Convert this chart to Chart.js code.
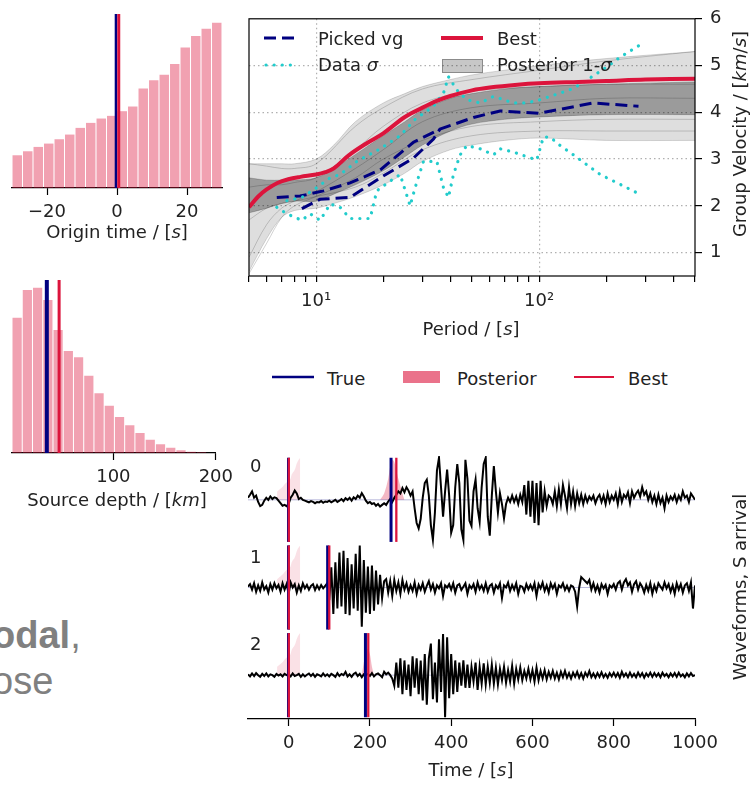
<!DOCTYPE html>
<html>
<head>
<meta charset="utf-8">
<script src="https://cdn.jsdelivr.net/npm/chart.js@4.4.1/dist/chart.umd.min.js"></script>
<style>
  body { margin: 0; background: #fff; }
  #page { position: relative; width: 751px; height: 789px; overflow: hidden; font-family: 'DejaVu Sans', sans-serif; color: #222; }
  canvas { position: absolute; }
  .lbl { position: absolute; font-size: 18px; line-height: 18px; white-space: nowrap; }
  .ctr { text-align: center; width: 300px; }
  .rot { transform: rotate(-90deg); }
  .slide { position: absolute; font-family: 'Liberation Sans', Arial, sans-serif; font-size: 38px; line-height: 46px; color: #808080; white-space: nowrap; }
  svg { position: absolute; overflow: visible; }
</style>
</head>
<body>
<div id="page">
  <canvas id="cOrigin" width="240" height="250" style="left:0;top:0"></canvas>
  <canvas id="cDepth" width="240" height="260" style="left:0;top:260px"></canvas>
  <canvas id="cDisp" width="511" height="345" style="left:240px;top:0"></canvas>
  <canvas id="cWave" width="511" height="349" style="left:240px;top:440px"></canvas>

  <!-- axis titles -->
  <div class="lbl ctr" style="left:-33px;top:223px">Origin time / [<i>s</i>]</div>
  <div class="lbl ctr" style="left:-33px;top:491px">Source depth / [<i>km</i>]</div>
  <div class="lbl ctr" style="left:321px;top:320px">Period / [<i>s</i>]</div>
  <div class="lbl ctr rot" style="left:590px;top:125px">Group Velocity / [<i>km</i>/<i>s</i>]</div>
  <div class="lbl ctr" style="left:321px;top:761px">Time / [<i>s</i>]</div>
  <div class="lbl ctr rot" style="left:590px;top:578px">Waveforms, S arrival</div>

  <!-- waveform row labels -->
  <div class="lbl" style="left:250px;top:457px">0</div>
  <div class="lbl" style="left:250px;top:548px">1</div>
  <div class="lbl" style="left:250px;top:635px">2</div>

  <!-- legend inside dispersion panel -->
  <svg style="left:264px;top:33px" width="36" height="10"><line x1="0" y1="5" x2="36" y2="5" stroke="#000080" stroke-width="3" stroke-dasharray="12,6"/></svg>
  <div class="lbl" style="left:318px;top:30px">Picked vg</div>
  <svg style="left:264px;top:60px" width="36" height="10"><line x1="2" y1="5" x2="34" y2="5" stroke="#22CCCC" stroke-width="3.2" stroke-linecap="round" stroke-dasharray="0.1,8"/></svg>
  <div class="lbl" style="left:318px;top:56px">Data <i>σ</i></div>
  <svg style="left:441px;top:33px" width="42" height="10"><line x1="0" y1="5" x2="42" y2="5" stroke="#DC143C" stroke-width="4"/></svg>
  <div class="lbl" style="left:497px;top:30px">Best</div>
  <div style="position:absolute;left:442px;top:59px;width:39px;height:12px;background:rgba(0,0,0,0.22);border:1px solid rgba(0,0,0,0.3)"></div>
  <div class="lbl" style="left:497px;top:56px">Posterior 1-<i>σ</i></div>

  <!-- shared legend -->
  <svg style="left:272px;top:372px" width="42" height="10"><line x1="0" y1="5" x2="42" y2="5" stroke="#000080" stroke-width="2.5"/></svg>
  <div class="lbl" style="left:327px;top:370px">True</div>
  <div style="position:absolute;left:403px;top:371px;width:37px;height:12px;background:rgba(220,20,60,0.6)"></div>
  <div class="lbl" style="left:457px;top:370px">Posterior</div>
  <svg style="left:574px;top:372px" width="40" height="10"><line x1="0" y1="5" x2="40" y2="5" stroke="#DC143C" stroke-width="2"/></svg>
  <div class="lbl" style="left:628px;top:370px">Best</div>

  <!-- slide text behind the figure -->
  <div class="slide" style="left:-8px;top:612px"><b>odal</b>,<br>ose</div>
</div>

<script>
// ---------- data ----------
// origin time histogram
const originCenters = [-28.5, -25.5, -22.5, -19.5, -16.5, -13.5, -10.5, -7.5, -4.5, -1.5,
                       1.5, 4.5, 7.5, 10.5, 13.5, 16.5, 19.5, 22.5, 25.5, 28.5];
const originCounts = [98, 110, 123, 133, 146, 160, 180, 195, 208, 216,
                      230, 244, 298, 323, 339, 371, 421, 455, 477, 495];
const originTicks = [-20, 0, 20];
const originTrue = -0.3;
const originBest = 0.5;
const originTop = 521;

// source depth histogram
const depthCenters = [6, 16, 26, 36, 46, 56, 66, 76, 86, 96, 106, 116, 126, 136, 146, 156, 166, 176, 186];
const depthCounts = [406, 489, 496, 459, 369, 306, 287, 232, 179, 142, 108, 83, 60, 40, 26, 16, 8, 4, 2];
const depthTicks = [100, 200];
const depthTrue = 35;
const depthBest = 47;
const depthTop = 519;

// dispersion curves
const periodTicks = [5, 6, 7, 8, 9, 10, 20, 30, 40, 50, 60, 70, 80, 90, 100, 200, 300, 400, 500];
const velTicks = [1, 2, 3, 4, 5, 6];
const postPeriod = [5, 6, 7, 8, 10, 12, 15, 20, 25, 30, 40, 50, 70, 100, 200, 500];
const postOuterLow = [0.6, 1.3, 1.75, 1.9, 1.95, 2.05, 2.2, 2.45, 2.7, 2.95, 3.2, 3.3, 3.4, 3.45, 3.4, 3.4];
const postInnerLow = [1.85, 1.95, 2.05, 2.1, 2.1, 2.25, 2.45, 2.75, 3.05, 3.3, 3.6, 3.75, 3.85, 3.9, 3.95, 3.95];
const postInnerHigh = [2.6, 2.55, 2.55, 2.55, 2.6, 2.8, 3.1, 3.5, 3.8, 4.05, 4.3, 4.4, 4.5, 4.55, 4.6, 4.65];
const postOuterHigh = [2.9, 2.9, 2.9, 2.9, 3.0, 3.3, 3.8, 4.2, 4.4, 4.55, 4.7, 4.8, 4.9, 5.0, 5.15, 5.3];
const samplePeriod = [5, 6, 7, 8, 10, 15, 20, 30, 50, 100, 200, 500];
const sampleCurves = [
  [0.55, 1.2, 1.75, 2.0, 2.2, 2.6, 3.0, 3.4, 3.7, 3.8, 3.85, 3.85],
  [2.9, 2.85, 2.8, 2.8, 2.9, 3.7, 4.1, 4.5, 4.7, 4.9, 5.1, 5.3],
  [1.7, 1.95, 2.05, 2.1, 2.2, 2.4, 2.7, 3.2, 3.5, 3.6, 3.6, 3.6],
  [0.9, 1.6, 1.95, 2.1, 2.3, 2.8, 3.2, 3.8, 4.1, 4.2, 4.3, 4.3],
  [2.4, 2.45, 2.45, 2.5, 2.6, 3.2, 3.7, 4.2, 4.45, 4.55, 4.6, 4.6]
];
const bestPeriod = [5, 5.5, 6, 6.7, 7.5, 8.5, 10, 11, 12, 14, 17, 20, 25, 30, 35, 40, 50, 60, 80, 100, 150, 200, 300, 500];
const bestVg = [1.97, 2.2, 2.35, 2.49, 2.57, 2.62, 2.67, 2.72, 2.8, 3.08, 3.35, 3.55, 3.9, 4.1, 4.25, 4.35, 4.47, 4.53, 4.59, 4.62, 4.65, 4.67, 4.7, 4.72];
const vgAPeriod = [6.66, 8.47, 10.8, 14.2, 19.4, 27.3, 35.9, 50.8, 66.8, 100, 175, 279];
const vgAVg = [2.18, 2.21, 2.32, 2.49, 2.77, 3.36, 3.64, 3.89, 4.03, 3.98, 4.2, 4.13];
const vgBPeriod = [8.63, 10.4, 14.2, 19.4, 27.3, 33.6, 35.9];
const vgBVg = [1.94, 2.14, 2.18, 2.6, 3.02, 3.43, 3.64];
const sigUpPeriod = [7.39, 8.63, 10.07, 11.56, 12.81, 15.22, 19.36, 23.81, 27.8, 33.6, 37.24, 39.21, 42.73,
                     47.38, 54.39, 62.41, 76.73, 88.0, 101.0, 124.2, 142.6, 163.6, 201.2, 230.9, 278.9];
const sigUpVg = [2.11, 2.18, 2.39, 2.6, 2.67, 2.95, 3.22, 3.5, 3.85, 4.13, 4.41, 4.76, 4.48,
                 4.27, 4.2, 4.34, 4.2, 4.2, 4.27, 4.41, 4.51, 4.69, 4.97, 5.18, 5.42];
const sigLowPeriod = [6.66, 7.39, 8.63, 9.40, 10.42, 11.56, 12.81, 14.2, 17.47, 18.71, 21.47, 23.81, 26.4, 27.8,
                      30.3, 34.78, 37.24, 39.21, 41.29, 44.23, 47.38, 54.39, 62.41, 66.85, 76.73, 88.05, 97.6,
                      104.5, 112.0, 124.2, 142.6, 163.6, 187.8, 230.9, 274.2];
const sigLowVg = [1.97, 1.83, 1.69, 1.83, 1.69, 2.04, 1.97, 1.73, 1.73, 2.32, 2.53, 2.67, 2.0, 2.39,
                  2.95, 2.95, 2.39, 2.18, 2.67, 3.09, 3.29, 3.22, 3.09, 3.22, 3.15, 3.05, 2.98,
                  3.47, 3.47, 3.29, 3.09, 2.88, 2.67, 2.46, 2.28];

// waveforms, sampled every 5 s from -100 s
const waveT0 = -100;
const waveDt = 5;
const timeTicks = [0, 200, 400, 600, 800, 1000];
const wave0 = [
  0.05, 0.12, 0.2, 0.05, 0.1, -0.05, -0.15, -0.12, -0.02, 0.05, 0.0, 0.08, 0.02, 0.06, 0.04, -0.02, -0.08, -0.14, -0.12, -0.15,
  -0.1, 0.05, 0.12, 0.22, 0.15, 0.02, 0.05, 0.0, -0.02, -0.04, -0.06, -0.03, -0.05, -0.08, -0.05, -0.06, -0.03, -0.07, -0.04, -0.05,
  -0.02, -0.06, -0.03, 0.0, -0.05, -0.02, 0.02, -0.03, 0.04, 0.0, 0.05, -0.02, 0.06, 0.02, 0.1, 0.05, 0.16, 0.08, -0.02, -0.08,
  -0.05, -0.1, -0.08, -0.14, -0.1, -0.16, -0.12, -0.08, -0.12, -0.04, 0.02, -0.05, 0.05, 0.12, 0.2, 0.15, 0.28, 0.18, 0.3, 0.22,
  0.1, 0.2, -0.2, -0.55, -0.68, -0.45, 0.05, 0.4, 0.48, 0.1, -0.6, -0.95, -0.3, 0.7, 1.0, 0.3, -0.4, 0.2, 0.72, 0.1,
  -0.78, -0.6, 0.3, 0.85, 0.4, -0.7, -0.95, 0.95, 0.5, -0.5, -0.62, 0.2, 0.48, -0.2, -0.52, 0.3, 0.85, 1.0, -0.4, -0.85,
  0.1, 0.8, 0.2, -0.3, 0.16, -0.1, -0.44, -0.1, 0.05, -0.05, 0.1, -0.05, 0.08, -0.1, 0.12, -0.05, 0.35, -0.35, 0.45, -0.4,
  0.45, -0.55, 0.4, -0.6, 0.45, -0.3, 0.2, -0.15, 0.1, 0.05, -0.1, 0.2, -0.15, 0.25, -0.1, 0.35, 0.1, -0.2, 0.3, -0.1,
  0.2, -0.15, 0.15, -0.08, 0.12, -0.1, 0.1, -0.05, 0.08, 0.0, 0.1, -0.08, 0.05, 0.12, -0.05, 0.1, -0.1, 0.15, -0.05, 0.1,
  0.0, 0.15, -0.1, 0.2, -0.05, 0.12, 0.05, 0.18, -0.08, 0.2, 0.05, 0.15, 0.22, 0.08, 0.3, 0.12, 0.2, 0.0, 0.15, -0.05,
  0.1, -0.1, 0.12, -0.08, 0.05, -0.2, 0.1, -0.05, 0.08, 0.0, 0.12, -0.05, 0.1, 0.0, 0.2, 0.05, 0.1, -0.05, 0.15, 0.08, 0.0
];
const wave1 = [
  0.02, 0.08, -0.05, 0.1, -0.1, 0.05, -0.08, 0.12, -0.05, 0.03, -0.12, 0.08, -0.05, 0.1, -0.02, 0.06, -0.1, 0.1, -0.05, 0.08,
  -0.15, 0.12, 0.0, 0.08, -0.12, 0.05, -0.08, 0.1, -0.02, 0.06, -0.05, 0.04, 0.08, -0.06, 0.05, -0.04, 0.06, -0.02, 0.04, 0.1,
  -0.3, 0.48, -0.63, 0.6, -0.5, 0.83, -0.45, 0.87, -0.63, 0.7, -0.66, 0.55, -0.5, 0.8, -0.55, 1.0, -0.93, 0.65, -0.6, 0.5,
  -0.63, 0.52, -0.55, 0.4, -0.4, 0.3, -0.25, 0.15, 0.2, -0.12, 0.15, -0.2, 0.18, -0.08, 0.12, -0.15, 0.18, -0.05, 0.1, -0.1,
  0.05, -0.08, 0.12, -0.15, 0.06, -0.05, 0.1, -0.1, 0.04, 0.15, -0.05, 0.08, -0.12, 0.05, -0.02, 0.1, -0.2, 0.05, 0.0, 0.08,
  -0.05, 0.1, -0.12, 0.05, 0.08, -0.06, 0.02, 0.1, -0.15, 0.05, -0.02, 0.08, -0.1, 0.12, -0.04, 0.05, -0.08, 0.1, -0.1, 0.04,
  0.08, -0.12, 0.05, -0.02, 0.1, -0.25, 0.05, 0.0, 0.12, -0.08, 0.06, -0.05, 0.1, -0.15, 0.04, 0.02, -0.1, 0.08, -0.04, 0.06,
  -0.05, 0.1, -0.2, 0.08, -0.02, 0.12, -0.08, 0.05, -0.12, 0.1, -0.02, 0.08, -0.15, 0.05, 0.0, 0.1, -0.06, 0.04, -0.08, 0.05,
  0.02, -0.1, -0.45, 0.0, 0.25, 0.2, 0.15, 0.1, 0.18, -0.05, 0.1, -0.08, 0.05, -0.12, 0.08, -0.02, 0.06, -0.15, 0.05, 0.0,
  0.08, -0.05, 0.1, 0.15, -0.05, 0.12, 0.2, 0.05, 0.12, -0.1, 0.08, 0.15, -0.05, 0.1, 0.02, -0.12, 0.06, -0.08, 0.1, -0.15,
  0.05, -0.08, 0.1, 0.02, -0.05, 0.12, -0.02, 0.08, -0.1, 0.05, -0.15, 0.1, -0.05, 0.08, -0.12, 0.05, 0.1, -0.08, 0.12, -0.5, 0.05
];
const wave2 = [
  0.02, -0.03, 0.04, -0.02, 0.05, 0.0, -0.04, 0.03, -0.02, 0.04, -0.03, 0.02, 0.0, -0.04, 0.03, -0.01, 0.02, -0.03, 0.03, 0.0,
  0.02, -0.03, 0.04, -0.02, 0.0, 0.03, -0.04, 0.02, -0.03, 0.01, 0.04, -0.02, 0.03, -0.04, 0.02, 0.0, -0.03, 0.04, -0.02, 0.02,
  -0.03, 0.03, 0.0, -0.04, 0.05, -0.02, 0.03, 0.0, 0.08, -0.03, 0.02, -0.04, 0.03, 0.06, -0.02, 0.03, -0.05, 0.02, 0.0, 0.03,
  -0.02, 0.05, -0.03, 0.02, 0.04, 0.0, -0.05, 0.08, 0.02, 0.06, 0.0, -0.08, -0.25, 0.3, -0.3, 0.4, -0.45, 0.35, -0.35, 0.25,
  -0.5, 0.45, -0.3, 0.4, -0.45, 0.35, -0.6, 0.5, -0.7, 0.4, 0.75, -0.57, 0.3, -0.65, 0.85, -0.4, 0.98, -1.0, 0.9, -0.55,
  0.5, -0.45, 0.35, -0.4, 0.3, -0.25, 0.35, -0.3, 0.25, -0.3, 0.2, -0.15, 0.3, -0.35, 0.2, -0.2, 0.28, -0.22, 0.2, -0.18,
  0.25, -0.2, 0.18, -0.22, 0.15, -0.12, 0.2, -0.18, 0.12, -0.15, 0.22, -0.2, 0.15, -0.1, 0.18, -0.12, 0.1, -0.08, 0.15, -0.1,
  0.12, -0.15, 0.18, -0.12, 0.1, -0.08, 0.12, -0.1, 0.08, -0.06, 0.1, -0.08, 0.06, -0.1, 0.08, -0.05, 0.1, -0.06, 0.05, -0.08,
  0.06, -0.04, 0.08, -0.06, 0.05, -0.08, 0.06, -0.03, 0.1, -0.05, 0.04, -0.06, 0.05, -0.04, 0.07, -0.05, 0.03, -0.06, 0.05, -0.03,
  0.06, -0.04, 0.05, -0.06, 0.08, -0.03, 0.04, -0.05, 0.06, -0.04, 0.03, -0.05, 0.06, -0.03, 0.05, -0.06, 0.04, -0.03, 0.06, -0.04,
  0.05, -0.03, 0.04, -0.05, 0.06, -0.02, 0.03, -0.05, 0.04, -0.03, 0.05, -0.04, 0.06, -0.03, 0.02, -0.05, 0.04, -0.03, 0.05, -0.02, 0.0
];
const trueSArrival = [252, 96, 189];
const bestSArrival = [265, 100, 196];
const arrivalPostT = [
  [225, 235, 245, 250, 255, 260, 265, 270, 280, 285],
  [92, 96, 100, 104],
  [180, 185, 190, 195, 200, 205, 210]
];
const arrivalPostAmp = [
  [0, 0.15, 0.5, 0.8, 0.95, 0.9, 0.7, 0.5, 0.15, 0],
  [0, 0.35, 0.3, 0],
  [0, 0.3, 0.55, 0.62, 0.5, 0.2, 0]
];

// ---------- style ----------
const NAVY = '#000080';
const CRIMSON = '#DC143C';
const CYAN = '#22CCCC';
const INK = '#222';
const tickFont = { family: 'DejaVu Sans', size: 18 };
const waveRowBase = [2.5, 1.5, 0.5];
const waveAmp = 0.48;

Chart.defaults.font.family = 'DejaVu Sans';
Chart.defaults.color = INK;

const fixHeight = h => s => { s.height = h; };
const fixWidth = w => s => { s.width = w; };
const setTicks = vals => s => { s.ticks = vals.map(v => ({ value: v })); };
const minus = v => (v < 0 ? '\u2212' + Math.abs(v) : String(v));
const pts = (xs, ys) => xs.map((x, i) => ({ x, y: ys[i] }));
const vline = (x, y0, y1, color, w, order) => ({
  type: 'line', data: [{ x, y: y0 }, { x, y: y1 }], borderColor: color, borderWidth: w,
  pointRadius: 0, fill: false, order
});
const noPlugins = { legend: { display: false }, tooltip: { enabled: false } };

function bottomAxis(min, max, ticks, height, pad, cb) {
  return {
    type: 'linear', min, max, offset: false,
    afterBuildTicks: setTicks(ticks), afterFit: fixHeight(height),
    grid: { drawOnChartArea: false, offset: false, tickLength: 7, tickColor: '#000', tickWidth: 1.2 },
    border: { display: true, color: '#000', width: 1.2 },
    ticks: { font: tickFont, color: INK, padding: pad, maxRotation: 0, autoSkip: false, callback: cb || minus }
  };
}

function histogram(id, centers, counts, ticks, xmin, xmax, top, tv, bv, pad, axisH, tw, bw) {
  new Chart(document.getElementById(id), {
    type: 'bar',
    data: {
      datasets: [
        vline(bv, 0, top, CRIMSON, bw, 0),
        vline(tv, 0, top, NAVY, tw, 1),
        { data: pts(centers, counts), backgroundColor: 'rgba(220,20,60,0.4)', borderWidth: 0,
          barPercentage: 0.9, categoryPercentage: 1, order: 2 }
      ]
    },
    options: {
      responsive: false, animation: false,
      layout: { padding: pad },
      plugins: noPlugins,
      scales: {
        x: bottomAxis(xmin, xmax, ticks, axisH, 7),
        y: { display: false, min: 0, max: top }
      }
    }
  });
}

histogram('cOrigin', originCenters, originCounts, originTicks, -30, 30, originTop,
  originTrue, originBest, { left: 12, right: 18, top: 14, bottom: 0 }, 62, 2.5, 3);
histogram('cDepth', depthCenters, depthCounts, depthTicks, 1, 200, depthTop,
  depthTrue, depthBest, { left: 12, right: 19, top: 20, bottom: 0 }, 67, 4, 3);

// ---------- dispersion panel ----------
const framePlugin = {
  id: 'frame',
  afterDatasetsDraw(chart) {
    const { ctx, chartArea: a } = chart;
    ctx.save();
    ctx.strokeStyle = '#000';
    ctx.lineWidth = 1.2;
    ctx.strokeRect(a.left, a.top, a.right - a.left, a.bottom - a.top);
    ctx.restore();
  }
};
const gridDots = '#b0b0b0';

const dispSets = [
  { data: pts(postPeriod, postOuterLow), borderColor: 'rgba(0,0,0,0.15)', borderWidth: 1, fill: false, order: 5 },
  { data: pts(postPeriod, postOuterHigh), borderColor: 'rgba(0,0,0,0.15)', borderWidth: 1, fill: '-1',
    backgroundColor: 'rgba(0,0,0,0.13)', order: 5 },
  { data: pts(postPeriod, postInnerLow), borderColor: 'rgba(0,0,0,0.2)', borderWidth: 1, fill: false, order: 4 },
  { data: pts(postPeriod, postInnerHigh), borderColor: 'rgba(0,0,0,0.2)', borderWidth: 1, fill: '-1',
    backgroundColor: 'rgba(0,0,0,0.3)', order: 4 }
];
sampleCurves.forEach(c => dispSets.push({
  data: pts(samplePeriod, c), borderColor: 'rgba(0,0,0,0.18)', borderWidth: 1, fill: false, order: 3
}));
dispSets.push(
  { data: pts(vgAPeriod, vgAVg), borderColor: NAVY, borderWidth: 3, borderDash: [12, 6], fill: false, tension: 0, order: 2 },
  { data: pts(vgBPeriod, vgBVg), borderColor: NAVY, borderWidth: 3, borderDash: [12, 6], fill: false, tension: 0, order: 2 },
  { data: pts(sigUpPeriod, sigUpVg), borderColor: CYAN, borderWidth: 3.2, borderDash: [0.1, 8], borderCapStyle: 'round',
    fill: false, tension: 0, order: 1 },
  { data: pts(sigLowPeriod, sigLowVg), borderColor: CYAN, borderWidth: 3.2, borderDash: [0.1, 8], borderCapStyle: 'round',
    fill: false, tension: 0, order: 1 },
  { data: pts(bestPeriod, bestVg), borderColor: CRIMSON, borderWidth: 4, fill: false, order: 0 }
);

new Chart(document.getElementById('cDisp'), {
  type: 'line',
  data: { datasets: dispSets },
  options: {
    responsive: false, animation: false,
    layout: { padding: { left: 8, right: 0, top: 14, bottom: 0 } },
    plugins: noPlugins,
    elements: { point: { radius: 0 }, line: { tension: 0.35 } },
    scales: {
      x: {
        type: 'logarithmic', min: 5, max: 500,
        afterBuildTicks: setTicks(periodTicks), afterFit: fixHeight(69),
        grid: {
          color: c => (c.tick && (c.tick.value === 10 || c.tick.value === 100)) ? gridDots : 'rgba(0,0,0,0)',
          lineWidth: 1.2, tickLength: 6, tickColor: '#000', tickWidth: 1.2
        },
        border: { display: false, dash: [1.5, 3] },
        ticks: {
          font: tickFont, color: INK, padding: 9, maxRotation: 0, autoSkip: false,
          callback: v => (v === 10 ? '10\u00B9' : v === 100 ? '10\u00B2' : '')
        }
      },
      y: {
        type: 'linear', position: 'right', min: 0.5, max: 6,
        afterBuildTicks: setTicks(velTicks), afterFit: fixWidth(56),
        grid: {
          color: c => (c.tick && c.tick.value < 6) ? gridDots : 'rgba(0,0,0,0)',
          lineWidth: 1.2, tickLength: 7, tickColor: '#000', tickWidth: 1.2
        },
        border: { display: false, dash: [1.5, 3] },
        ticks: { font: tickFont, color: INK, padding: 8, autoSkip: false }
      }
    }
  },
  plugins: [framePlugin]
});

// ---------- waveform panel ----------
const waves = [wave0, wave1, wave2];
const originPeak = Math.max(...originCounts);
const waveSets = [];
waveRowBase.forEach((b, r) => {
  waveSets.push({
    data: originCenters.map((x, i) => ({ x, y: b + waveAmp * originCounts[i] / originPeak })),
    fill: { value: b }, backgroundColor: 'rgba(220,20,60,0.13)', borderWidth: 0, order: 6
  });
  waveSets.push({
    data: arrivalPostT[r].map((x, i) => ({ x, y: b + waveAmp * arrivalPostAmp[r][i] })),
    fill: { value: b }, backgroundColor: 'rgba(220,20,60,0.3)', borderWidth: 0, tension: 0.3, order: 6
  });
  waveSets.push({
    data: [{ x: -100, y: b }, { x: 1000, y: b }], borderColor: 'rgba(0,0,128,0.35)', borderWidth: 0.8, order: 5
  });
  waveSets.push({
    data: waves[r].map((v, k) => ({ x: waveT0 + k * waveDt, y: b + waveAmp * v })),
    borderColor: '#000', borderWidth: 2, order: 3
  });
  waveSets.push(vline(originTrue, b - 0.48, b + 0.48, NAVY, 3, 2));
  waveSets.push(vline(originBest, b - 0.48, b + 0.48, CRIMSON, 2.3, 1));
  waveSets.push(vline(trueSArrival[r], b - 0.48, b + 0.48, NAVY, 3, 2));
  waveSets.push(vline(bestSArrival[r], b - 0.48, b + 0.48, CRIMSON, 2.3, 1));
});

new Chart(document.getElementById('cWave'), {
  type: 'line',
  data: { datasets: waveSets },
  options: {
    responsive: false, animation: false,
    layout: { padding: { left: 8, right: 56, top: 16, bottom: 0 } },
    plugins: noPlugins,
    elements: { point: { radius: 0 }, line: { tension: 0 } },
    scales: {
      x: bottomAxis(-100, 1000, timeTicks, 70, 7),
      y: { display: false, min: 0, max: 3 }
    }
  }
});
</script>
</body>
</html>
